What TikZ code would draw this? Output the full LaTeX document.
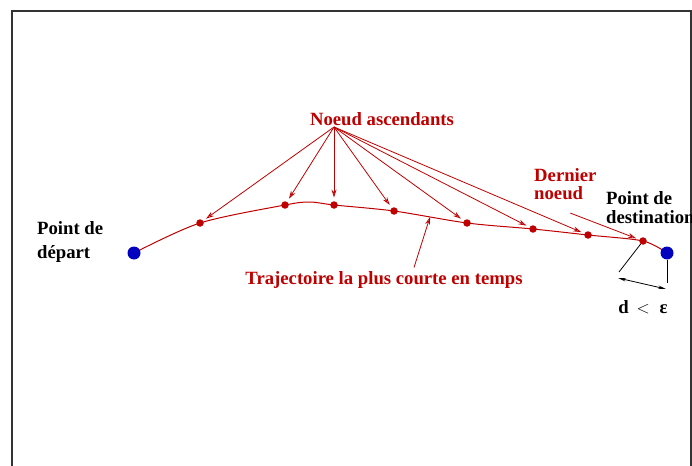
\documentclass[tikz,border=0pt]{standalone}
\usepackage{fontspec}
\setmainfont{Liberation Serif}
\usetikzlibrary{arrows.meta,positioning,calc,backgrounds}
\definecolor{figred}{RGB}{190,0,0}
\definecolor{figblue}{RGB}{0,0,190}

\begin{document}
\begin{tikzpicture}[x=1pt, y=-1pt, font=\fontsize{18.7}{18}\selectfont\bfseries,
    rdot/.style={circle, fill=figred, inner sep=0pt, minimum size=7.5pt},
    bdot/.style={circle, fill=figblue, inner sep=0pt, minimum size=13pt},
    rptr/.style={figred, line width=0.8pt, -{Stealth[fill=white, length=8pt, width=5pt]}, shorten >=3.5pt},
    kline/.style={black, line width=0.8pt},
    lbl/.style={anchor=north west, align=left, inner sep=0pt}]
  \useasboundingbox (0,0) rectangle (692,465);
  % end points
  \node[bdot] (dep) at (134,253) {};
  \node[bdot] (dest) at (667,253) {};
  \node[lbl] (deplbl) at (37,221) {Point de\\[6pt]d\'epart};
  \node[lbl] (destlbl) at (606,191.5) {Point de\\[1pt]destination};
  % nodes on the path
  \node[rdot] (n1) at (200,223) {};
  \node[rdot] (n2) at (285,205) {};
  \node[rdot] (n3) at (334,205) {};
  \node[rdot] (n4) at (394,211) {};
  \node[rdot] (n5) at (467,223) {};
  \node[rdot] (n6) at (533,229) {};
  \node[rdot] (n7) at (588,235) {};
  \node[rdot] (n8) at (643,241) {};
  \coordinate (peak) at (310,202);
  \begin{scope}[on background layer]
    \draw[black!80, line width=1.3pt] (12,470) -- (12,11) -- (691,11) -- (691,470);
    \draw[figred, line width=1pt] plot[smooth, tension=0.5] coordinates
      {(dep) (n1) (n2) (peak) (n3) (n4) (n5) (n6) (n7) (n8) (dest)};
  \end{scope}
  % ascending nodes
  \node[figred, anchor=base] (asc) at (382,126) {Noeud ascendants};
  \coordinate (apex) at (334,127);
  \draw[rptr] (apex) -- (n1);
  \draw[rptr] (apex) -- (n2);
  \draw[rptr] (apex) -- (n3);
  \draw[rptr] (apex) -- (n4);
  \draw[rptr] (apex) -- (n5);
  \draw[rptr] (apex) -- (n6);
  \draw[rptr] (apex) -- (n7);
  % last node
  \node[lbl, text=figred] (dern) at (534,168.5) {Dernier\\noeud};
  \draw[rptr] ([xshift=5pt, yshift=-13pt]dern.south) -- (n8);
  % path label
  \node[figred, anchor=base] (traj) at (384,284) {Trajectoire la plus courte en temps};
  \coordinate (trajpt) at (430,217);
  \draw[rptr, shorten >=0pt] ([xshift=30pt]traj.north) -- (trajpt);
  % distance to the goal
  \coordinate (da) at (619,272);
  \coordinate (db) at (667,283);
  \draw[kline] (n8) -- (da);
  \draw[kline] (dest) -- (db);
  \coordinate (ea) at (618,278);
  \coordinate (eb) at (666,289);
  \draw[kline, {Stealth[length=8pt, width=3.5pt]}-{Stealth[length=8pt, width=3.5pt]}] (ea) -- (eb);
  \node[anchor=base] (eps) at (643,313) {d\, $<$ \;ε};
\end{tikzpicture}
\end{document}
